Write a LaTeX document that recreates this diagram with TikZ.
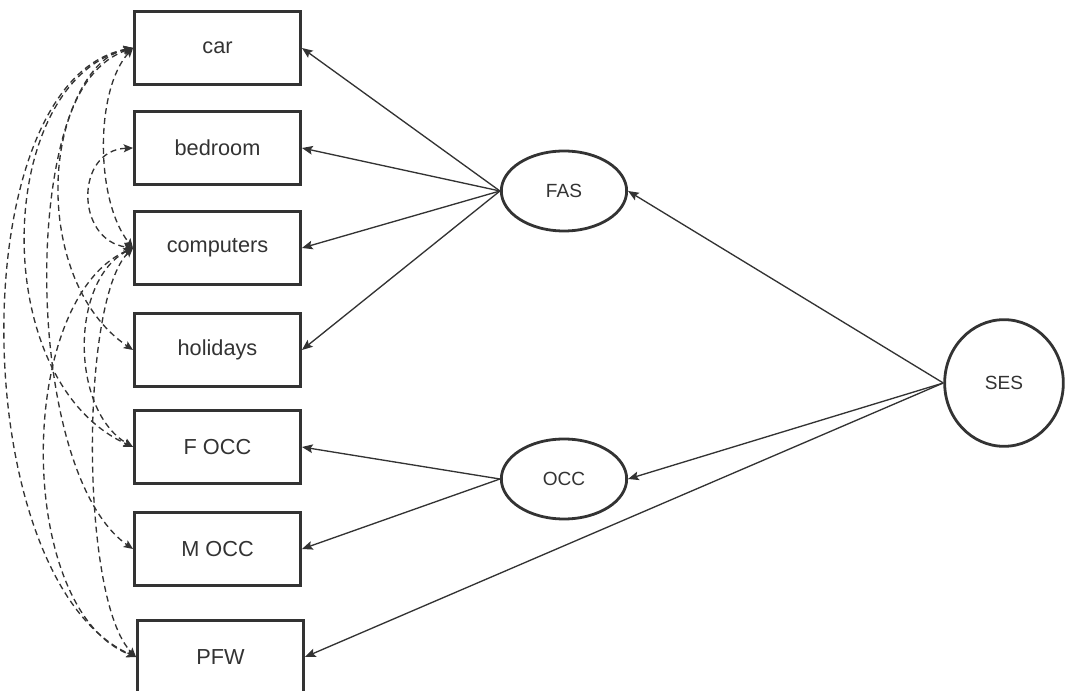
\documentclass[tikz,border=0pt]{standalone}
\usepackage{fontspec}
\setmainfont{Liberation Sans}
\usetikzlibrary{arrows.meta,shapes.geometric}
\definecolor{ink}{RGB}{51,51,51}
\begin{document}
\begin{tikzpicture}[x=0.75pt,y=-0.75pt,
  obs/.style={draw=ink, line width=2.2pt, rectangle, minimum width=124.5pt,
    minimum height=54.75pt, inner sep=0pt, font=\fontsize{16.3}{19}\selectfont, text=ink},
  lat/.style={draw=ink, line width=2.1pt, ellipse, minimum width=94pt,
    minimum height=60pt, inner sep=0pt, font=\fontsize{14.3}{17}\selectfont, text=ink},
  load/.style={draw=ink, line width=1pt, -{Stealth[length=8pt,width=6.5pt,inset=1.5pt]}},
  cov/.style={draw=ink, line width=1pt, dash pattern=on 4.5pt off 3pt,
    {Stealth[length=7pt,width=6pt,inset=1.5pt]}-{Stealth[length=7pt,width=6pt,inset=1.5pt]}}
]
\useasboundingbox (0,0) rectangle (1065,691);

% observed indicators
\node[obs] (car)  at (217.5,48)  {car};
\node[obs] (bed)  at (217.5,148) {bedroom};
\node[obs] (comp) at (217.5,248) {computers};
\node[obs] (hol)  at (217.5,350) {holidays};
\node[obs] (focc) at (217.5,447) {F OCC};
\node[obs] (mocc) at (217.5,549) {M OCC};
\node[obs] (pfw)  at (220.5,657) {PFW};

% latent factors
\node[lat] (fas) at (564,191) {FAS};
\node[lat] (occ) at (564,479) {OCC};
\node[lat, minimum width=89pt, minimum height=95pt] (ses) at (1004,383) {SES};

% factor loadings
\draw[load] (fas.west) -- (car.east);
\draw[load] (fas.west) -- (bed.east);
\draw[load] (fas.west) -- (comp.east);
\draw[load] (fas.west) -- (hol.east);
\draw[load] (occ.west) -- (focc.east);
\draw[load] (occ.west) -- (mocc.east);
\draw[load] (ses.west) -- (fas.east);
\draw[load] (ses.west) -- (occ.east);
\draw[load] (ses.west) -- (pfw.east);

% residual covariances
\draw[cov] (car.west)  .. controls (95,90)   and (95,200)  .. (comp.west);
\draw[cov] (bed.west)  .. controls (75,150)  and (75,240)  .. (comp.west);
\draw[cov] (car.west)  .. controls (40,80)   and (30,280)  .. (hol.west);
\draw[cov] (car.west)  .. controls (-5,80)   and (-15,380) .. (focc.west);
\draw[cov] (car.west)  .. controls (20,70)   and (20,470)  .. (mocc.west);
\draw[cov] (car.west)  .. controls (-40,80)  and (-35,580) .. (pfw.west);
\draw[cov] (comp.west) .. controls (70,280)  and (70,410)  .. (focc.west);
\draw[cov] (comp.west) .. controls (15,300)  and (15,610)  .. (pfw.west);
\draw[cov] (comp.west) .. controls (80,300)  and (80,600)  .. (pfw.west);
\end{tikzpicture}
\end{document}
